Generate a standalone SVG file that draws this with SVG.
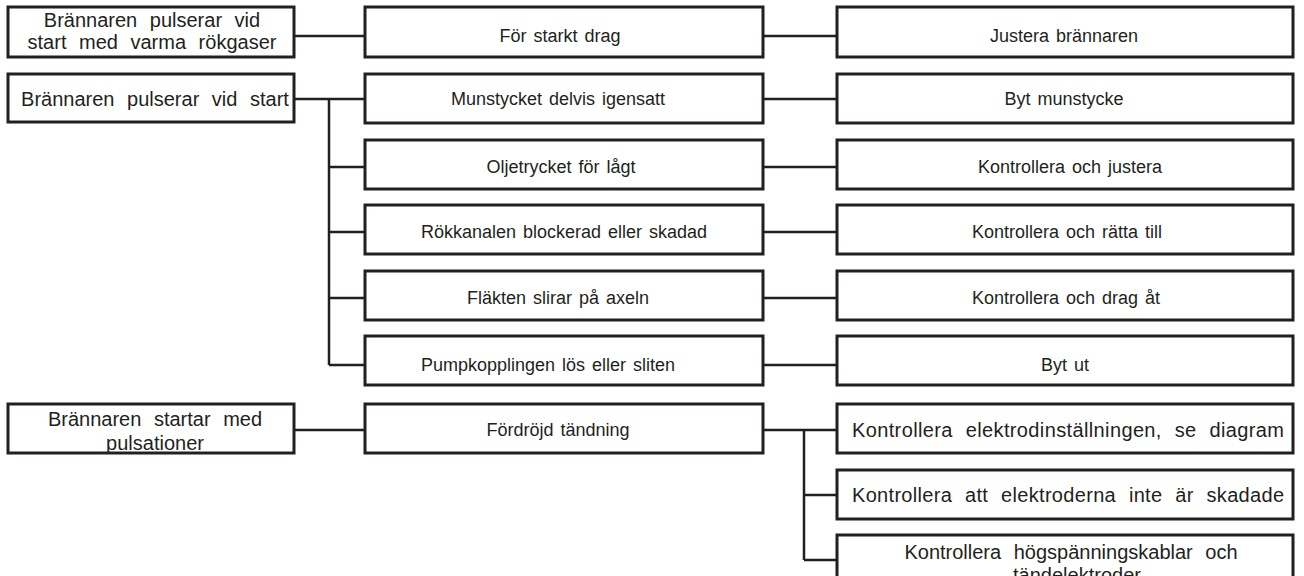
<svg xmlns="http://www.w3.org/2000/svg" width="1304" height="576" viewBox="0 0 1304 576">
<style>
.box{fill:#fff;stroke:#231f20;stroke-width:3}
.con{fill:none;stroke:#231f20;stroke-width:2.5}
text{font-family:"Liberation Sans",Arial,sans-serif;font-size:20px;fill:#231f20;text-anchor:middle;word-spacing:7px}
text.s{font-size:18px;word-spacing:2px}
</style>
<rect width="1304" height="576" fill="#fff"/>
<g id="connectors">
<path class="con" d="M294 36H365M763 36H837"/>
<path class="con" d="M294 99H365M329 99V365M329 167H365M329 232H365M329 298H365M329 365H365"/>
<path class="con" d="M763 99H837M763 167H837M763 232H837M763 298H837M763 365H837"/>
<path class="con" d="M294 430H365M763 430H837M804 430V560M804 495H837M804 560H837"/>
</g>
<g id="n-l1"><rect class="box" x="8" y="7" width="286" height="50"/><text x="152" y="27">Brännaren pulserar vid</text><text x="152" y="49">start med varma rökgaser</text></g>
<g id="n-m0"><rect class="box" x="365" y="7" width="398" height="50"/><text class="s" x="560" y="42">För starkt drag</text></g>
<g id="n-r0"><rect class="box" x="837" y="7" width="456" height="50"/><text class="s" x="1064" y="42">Justera brännaren</text></g>
<g id="n-l2"><rect class="box" x="8" y="74" width="286" height="48"/><text x="155" y="106">Brännaren pulserar vid start</text></g>
<g id="n-m1"><rect class="box" x="365" y="74" width="398" height="49"/><text class="s" x="558" y="105">Munstycket delvis igensatt</text></g>
<g id="n-r1"><rect class="box" x="837" y="74" width="456" height="49"/><text class="s" x="1064" y="105">Byt munstycke</text></g>
<g id="n-m2"><rect class="box" x="365" y="140" width="398" height="49"/><text class="s" x="561" y="173">Oljetrycket för lågt</text></g>
<g id="n-r2"><rect class="box" x="837" y="140" width="456" height="49"/><text class="s" x="1070" y="173">Kontrollera och justera</text></g>
<g id="n-m3"><rect class="box" x="365" y="205" width="398" height="49"/><text class="s" x="564" y="238">Rökkanalen blockerad eller skadad</text></g>
<g id="n-r3"><rect class="box" x="837" y="205" width="456" height="49"/><text class="s" x="1067" y="238">Kontrollera och rätta till</text></g>
<g id="n-m4"><rect class="box" x="365" y="271" width="398" height="49"/><text class="s" x="558" y="304">Fläkten slirar på axeln</text></g>
<g id="n-r4"><rect class="box" x="837" y="271" width="456" height="49"/><text class="s" x="1066" y="304">Kontrollera och drag åt</text></g>
<g id="n-m5"><rect class="box" x="365" y="336" width="398" height="49"/><text class="s" x="548" y="371">Pumpkopplingen lös eller sliten</text></g>
<g id="n-r5"><rect class="box" x="837" y="336" width="456" height="49"/><text class="s" x="1065" y="371">Byt ut</text></g>
<g id="n-l3"><rect class="box" x="8" y="404" width="286" height="49"/><text x="155" y="426">Brännaren startar med</text><text x="155" y="450">pulsationer</text></g>
<g id="n-m6"><rect class="box" x="365" y="404" width="398" height="49"/><text class="s" x="558" y="436">Fördröjd tändning</text></g>
<g id="n-r6"><rect class="box" x="837" y="404" width="456" height="49"/><text x="1068" y="437" textLength="432" lengthAdjust="spacing">Kontrollera elektrodinställningen, se diagram</text></g>
<g id="n-r7"><rect class="box" x="837" y="470" width="456" height="49"/><text x="1068" y="502" textLength="432" lengthAdjust="spacing">Kontrollera att elektroderna inte är skadade</text></g>
<g id="n-r8"><rect class="box" x="837" y="535" width="456" height="49"/><text x="1071" y="559">Kontrollera högspänningskablar och</text><text x="1077" y="582">tändelektroder</text></g>
</svg>
